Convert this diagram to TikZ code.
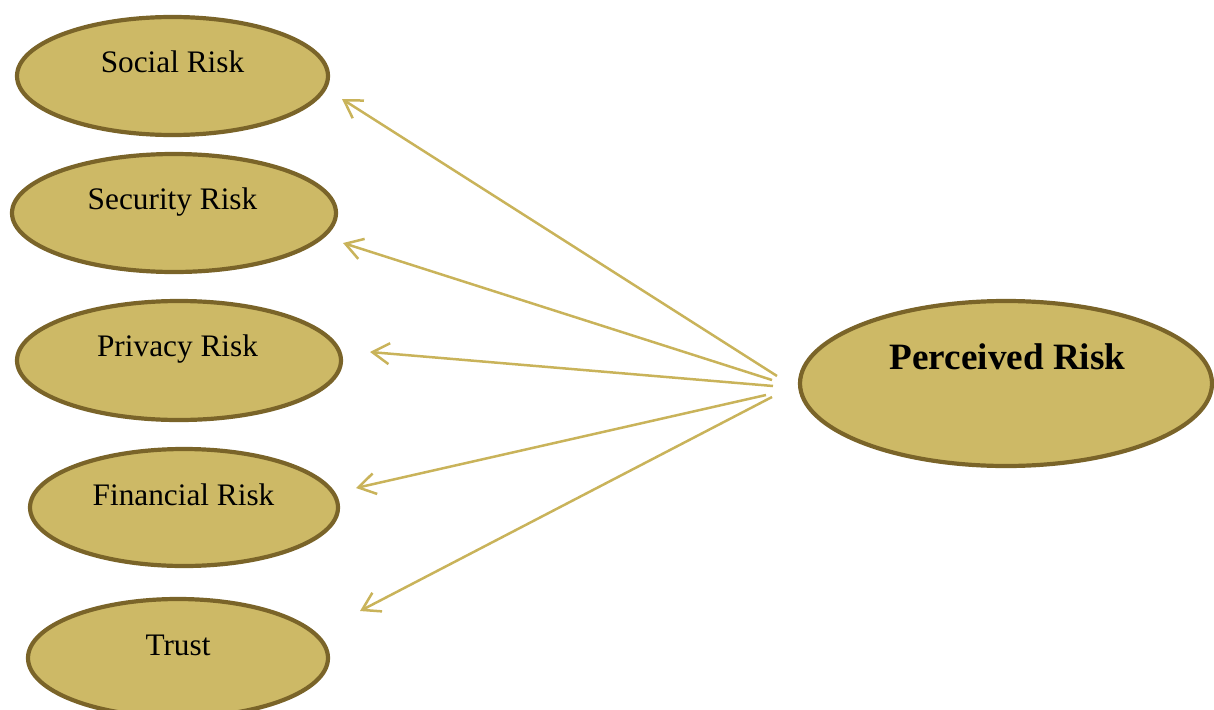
\documentclass[tikz,border=0pt]{standalone}
\usepackage{fontspec}
\setmainfont{Liberation Serif}
\usetikzlibrary{shapes.geometric,arrows.meta}
\definecolor{ellfill}{HTML}{CDB966}
\definecolor{elldraw}{HTML}{7A6429}
\definecolor{arrcol}{HTML}{C9B35A}
\tikzset{
  riskell/.style={ellipse, draw=elldraw, fill=ellfill, line width=4.2pt, inner sep=0pt, outer sep=0pt},
  risktext/.style={anchor=base, inner sep=0pt, font=\fontsize{31.3}{36}\selectfont},
  maintext/.style={anchor=base, inner sep=0pt, font=\fontsize{37.2}{42}\selectfont\bfseries},
  riskarrow/.style={draw=arrcol, line width=2.5pt, -{Straight Barb[length=17pt,width=21pt]}}
}
\begin{document}
\begin{tikzpicture}[x=1pt,y=-1pt]
\useasboundingbox (0,0) rectangle (1214,709);
% ellipses
\node[riskell, minimum width=311pt, minimum height=118pt] (social) at (172.5,76) {};
\node[riskell, minimum width=324pt, minimum height=118pt] (security) at (174,213) {};
\node[riskell, minimum width=324pt, minimum height=119pt] (privacy) at (179,360.5) {};
\node[riskell, minimum width=308pt, minimum height=117pt] (financial) at (184,507.5) {};
\node[riskell, minimum width=300pt, minimum height=118pt] (trust) at (178,658) {};
\node[riskell, minimum width=412pt, minimum height=165pt] (perceived) at (1006,383.5) {};
% texts
\node[risktext] (socialT) at (172.5,72) {Social Risk};
\node[risktext] (securityT) at (172.5,209) {Security Risk};
\node[risktext] (privacyT) at (177.5,356) {Privacy Risk};
\node[risktext] (financialT) at (183.5,505) {Financial Risk};
\node[risktext] (trustT) at (178,655) {Trust};
\node[maintext] (perceivedT) at (1007.5,369) {Perceived Risk};
% connector ends
\coordinate (s1) at (777,376);
\coordinate (s2) at (772,380);
\coordinate (s3) at (773,386);
\coordinate (s4) at (766,395);
\coordinate (s5) at (772,397);
\coordinate (e1) at (342,99);
\coordinate (e2) at (343,243);
\coordinate (e3) at (370,352);
\coordinate (e4) at (356,488);
\coordinate (e5) at (360,611);
\draw[riskarrow] (s1) -- (e1);
\draw[riskarrow] (s2) -- (e2);
\draw[riskarrow] (s3) -- (e3);
\draw[riskarrow] (s4) -- (e4);
\draw[riskarrow] (s5) -- (e5);
\end{tikzpicture}
\end{document}
